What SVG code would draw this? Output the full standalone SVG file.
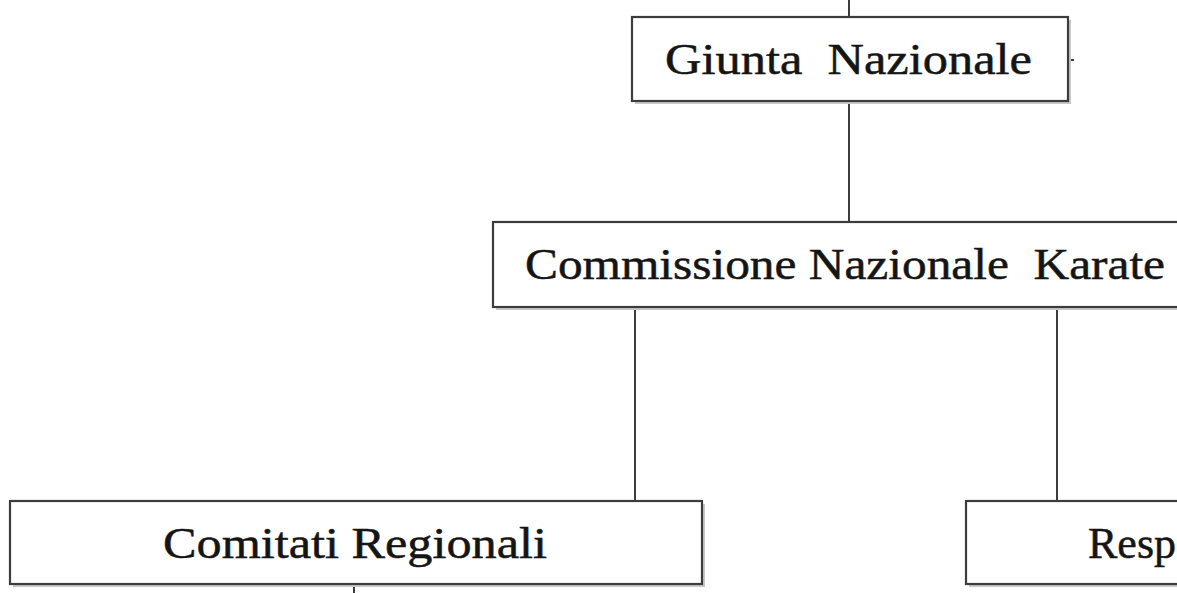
<svg xmlns="http://www.w3.org/2000/svg" width="1177" height="593" viewBox="0 0 1177 593">
<style>
.box{fill:#fff;stroke:#3c3c3c;stroke-width:2.2}
.sh{fill:#c8c8c8}
.lbl{font-family:"Liberation Serif","Times New Roman",serif;font-size:44px;fill:#151515;stroke:#151515;stroke-width:0.5}
.ln{stroke:#3c3c3c;stroke-width:2;fill:none}
</style>
<rect width="1177" height="593" fill="#fff"/>
<g id="connectors">
<line class="ln" x1="849" y1="0" x2="849" y2="17"/>
<line class="ln" x1="849" y1="101" x2="849" y2="222"/>
<line class="ln" x1="1068" y1="60" x2="1074" y2="60"/>
<line class="ln" x1="635" y1="307" x2="635" y2="501"/>
<line class="ln" x1="1057" y1="307" x2="1057" y2="501"/>
<line class="ln" x1="354" y1="583" x2="354" y2="593"/>
</g>
<g id="giunta">
<rect class="sh" x="635" y="20" width="436" height="84"/>
<rect class="box" x="632" y="17" width="436" height="84"/>
<text class="lbl" x="665" y="74" textLength="367" lengthAdjust="spacingAndGlyphs" xml:space="preserve">Giunta  Nazionale</text>
</g>
<g id="commissione">
<rect class="sh" x="496" y="225" width="700" height="85"/>
<rect class="box" x="493" y="222" width="700" height="85"/>
<text class="lbl" x="525" y="279" textLength="640" lengthAdjust="spacingAndGlyphs" xml:space="preserve">Commissione Nazionale  Karate</text>
</g>
<g id="comitati">
<rect class="sh" x="13" y="504" width="692" height="83"/>
<rect class="box" x="10" y="501" width="692" height="83"/>
<text class="lbl" x="163" y="558" textLength="384" lengthAdjust="spacingAndGlyphs">Comitati Regionali</text>
</g>
<g id="resp">
<rect class="sh" x="969" y="504" width="300" height="83"/>
<rect class="box" x="966" y="501" width="300" height="83"/>
<text class="lbl" x="1088" y="558">Resp</text>
</g>
</svg>
